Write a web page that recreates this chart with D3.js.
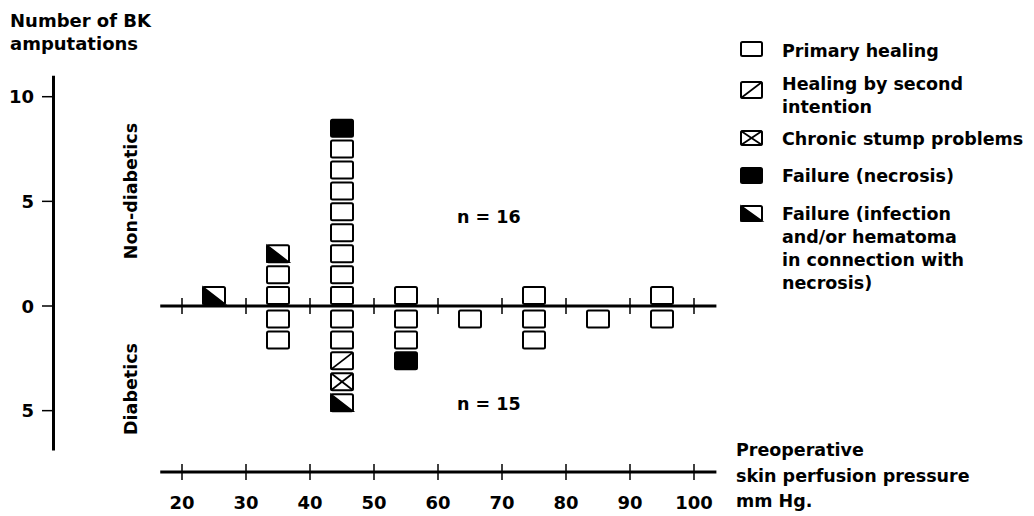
<!DOCTYPE html>
<html>
<head>
<meta charset="utf-8">
<script src="https://cdn.jsdelivr.net/npm/d3@7"></script>
<style>
  html, body { margin: 0; padding: 0; background: #fff; }
  svg text { font-family: "DejaVu Sans", sans-serif; font-weight: bold; fill: #000; }
</style>
</head>
<body>
<svg id="chart" width="1034" height="516"></svg>
<script>
// ---------------- data ----------------
const pressureBins = [25, 35, 45, 55, 65, 75, 85, 95];           // bin centres, mm Hg
// stacks of outcomes per bin, listed from the axis outward
const nonDiabetics = [
  ["failInf"],
  ["primary", "primary", "failInf"],
  ["primary", "primary", "primary", "primary", "primary", "primary", "primary", "primary", "necrosis"],
  ["primary"],
  [],
  ["primary"],
  [],
  ["primary"]
];
const diabetics = [
  [],
  ["primary", "primary"],
  ["primary", "primary", "second", "chronic", "failInf"],
  ["primary", "primary", "necrosis"],
  ["primary"],
  ["primary", "primary"],
  ["primary"],
  ["primary"]
];
const outcomeKeys = ["primary", "second", "chronic", "necrosis", "failInf"];
const outcomeLabels = [
  ["Primary healing"],
  ["Healing by second", "intention"],
  ["Chronic stump problems"],
  ["Failure (necrosis)"],
  ["Failure (infection", "and/or hematoma", "in connection with", "necrosis)"]
];
const xTicks = [20, 30, 40, 50, 60, 70, 80, 90, 100];
const yTicks = [10, 5, 0, -5];
const yTickLabels = ["10", "5", "0", "5"];
const groupLabels = ["Non-diabetics", "Diabetics"];
const groupCounts = ["n = 16", "n = 15"];

// ---------------- layout ----------------
const svg = d3.select("#chart");
const x = d3.scaleLinear().domain([20, 100]).range([182, 694]);
const y = d3.scaleLinear().domain([0, 10]).range([306, 96.7]);
const FS = 17.5;

// draw a symbol for outcome type into group g at rect (x0,y0,w,h)
function symbol(g, type, x0, y0, w, h) {
  const s = g.append("g");
  s.append("rect").attr("x", x0).attr("y", y0).attr("width", w).attr("height", h)
    .attr("rx", 1.5)
    .attr("fill", type === "necrosis" ? "#000" : "#fff")
    .attr("stroke", "#000").attr("stroke-width", 2);
  if (type === "second" || type === "chronic") {
    s.append("line").attr("x1", x0).attr("y1", y0 + h).attr("x2", x0 + w).attr("y2", y0)
      .attr("stroke", "#000").attr("stroke-width", 1.8);
  }
  if (type === "chronic") {
    s.append("line").attr("x1", x0).attr("y1", y0).attr("x2", x0 + w).attr("y2", y0 + h)
      .attr("stroke", "#000").attr("stroke-width", 1.8);
  }
  if (type === "failInf") {
    s.append("path")
      .attr("d", `M${x0},${y0}L${x0},${y0 + h}L${x0 + w},${y0 + h}Z`)
      .attr("fill", "#000").attr("stroke", "#000").attr("stroke-width", 1.5);
  }
}

// ---------- y axis ----------
svg.append("line").attr("x1", 53.5).attr("x2", 53.5)
  .attr("y1", y(11)).attr("y2", y(-6.9))
  .attr("stroke", "#000").attr("stroke-width", 3);
const yt = svg.append("g");
yTicks.forEach((v, i) => {
  yt.append("line").attr("x1", 42).attr("x2", 54).attr("y1", y(v)).attr("y2", y(v))
    .attr("stroke", "#000").attr("stroke-width", 1.5);
  yt.append("text").attr("x", 34).attr("y", y(v) + 6.5).attr("text-anchor", "end")
    .attr("font-size", 18).text(yTickLabels[i]);
});
svg.append("text").attr("x", 10).attr("y", 27).attr("font-size", 18).text("Number of BK");
svg.append("text").attr("x", 10).attr("y", 50).attr("font-size", 18).text("amputations");

// group labels (rotated)
svg.append("text").attr("transform", `translate(137,191) rotate(-90)`)
  .attr("text-anchor", "middle").attr("font-size", FS).text(groupLabels[0]);
svg.append("text").attr("transform", `translate(137,389) rotate(-90)`)
  .attr("text-anchor", "middle").attr("font-size", FS).text(groupLabels[1]);

// ---------- horizontal axes ----------
function hAxis(yPos, labels) {
  const g = svg.append("g");
  g.append("line").attr("x1", x(16.6)).attr("x2", x(103.5)).attr("y1", yPos).attr("y2", yPos)
    .attr("stroke", "#000").attr("stroke-width", 3);
  xTicks.forEach(v => {
    g.append("line").attr("x1", x(v)).attr("x2", x(v)).attr("y1", yPos - 8).attr("y2", yPos + 8)
      .attr("stroke", "#000").attr("stroke-width", 1.5);
    if (labels) {
      g.append("text").attr("x", x(v)).attr("y", yPos + 37).attr("text-anchor", "middle")
        .attr("font-size", 18).text(v);
    }
  });
}

// ---------- boxes ----------
const boxW = 22, boxH = 17;
const marks = svg.append("g");
pressureBins.forEach((b, i) => {
  nonDiabetics[i].forEach((t, k) => {
    symbol(marks, t, x(b) - boxW / 2, y(k + 1) + 2, boxW, boxH);
  });
  diabetics[i].forEach((t, k) => {
    symbol(marks, t, x(b) - boxW / 2, y(-k) + 4.5, boxW, boxH);
  });
});
hAxis(y(0), false);
hAxis(472, true);

svg.append("text").attr("x", 457).attr("y", 223).attr("font-size", FS).text(groupCounts[0]);
svg.append("text").attr("x", 457).attr("y", 410).attr("font-size", FS).text(groupCounts[1]);

// x axis title
["Preoperative", "skin perfusion pressure", "mm Hg."].forEach((t, i) => {
  svg.append("text").attr("x", 736).attr("y", 456 + i * 25.5).attr("font-size", FS).text(t);
});

// ---------- legend ----------
const legSymY = [42, 82, 131, 168, 206];
const legSymH = [14, 16, 14, 15, 15];
const legTextY = [57, 90, 145, 182, 220];
const lg = svg.append("g");
outcomeKeys.forEach((k, i) => {
  symbol(lg, k, 741, legSymY[i], 21, legSymH[i]);
  outcomeLabels[i].forEach((line, j) => {
    lg.append("text").attr("x", 782).attr("y", legTextY[i] + j * 23)
      .attr("font-size", FS).text(line);
  });
});
</script>
</body>
</html>
